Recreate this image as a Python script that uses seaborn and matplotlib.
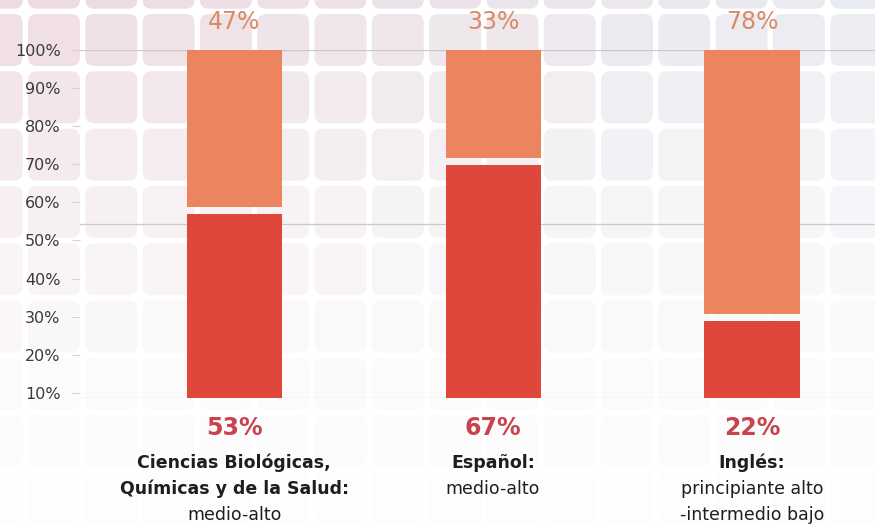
import numpy as np
import pandas as pd
import matplotlib
matplotlib.use("Agg")
import matplotlib.pyplot as plt
from matplotlib.patches import FancyBboxPatch
import seaborn as sns

# datos
materias = ["Ciencias", "Español", "Inglés"]
logrado = [53, 67, 22]        # parte inferior (rojo)
no_logrado = [47, 33, 78]     # parte superior (naranja)
titulos = [["Ciencias Biológicas,", "Químicas y de la Salud:"], ["Español:"], ["Inglés:"]]
niveles = [["medio-alto"], ["medio-alto"], ["principiante alto", "-intermedio bajo"]]
ticks_txt = ["10%", "20%", "30%", "40%", "50%", "60%", "70%", "80%", "90%", "100%"]

ROJO = "#e0473b"
NARANJA = "#ec845f"
sep = 2.0

sns.set_style("white")
plt.rcParams["font.family"] = ["DejaVu Sans"]

fig = plt.figure(figsize=(8.75, 5.27), dpi=100)
fig.patch.set_facecolor("white")

# fondo de cuadritos
bg = fig.add_axes([0, 0, 1, 1], zorder=0)
bg.set_xlim(0, 875)
bg.set_ylim(527, 0)
bg.axis("off")
izq = np.array([0.935, 0.855, 0.880])
der = np.array([0.915, 0.925, 0.950])
paso = 57.3
for i in range(-1, 16):
    for j in range(-1, 10):
        x0 = 28 + paso * i
        y0 = 14 + paso * j
        fx = np.clip((x0 + 26) / 875, 0, 1)
        fy = np.clip((y0 + 26) / 520, 0, 1)
        c = izq * (1 - fx) + der * fx
        w = (1 - fy) ** 1.8
        c = c * w + np.ones(3) * (1 - w) * 0.992
        bg.add_patch(FancyBboxPatch((x0 + 6, y0 + 6), 40, 40,
                                    boxstyle="round,pad=6,rounding_size=9",
                                    fc=c, ec="none"))

ax = fig.add_axes([80 / 875, (527 - 398) / 527, 795 / 875, 348 / 527], zorder=1)
ax.patch.set_alpha(0)

df = pd.DataFrame({"materia": materias, "logrado": logrado, "no_logrado": no_logrado})
df["base"] = df["logrado"] + sep
df["alto"] = df["no_logrado"] - sep

sns.barplot(data=df, x="materia", y="logrado", color=ROJO, saturation=1,
            width=0.367, ax=ax, zorder=3, linewidth=0)
sns.barplot(data=df, x="materia", y="alto", bottom=df["base"].to_list(), color=NARANJA,
            saturation=1, width=0.367, ax=ax, zorder=3, linewidth=0)

for y in [0, 50, 100]:
    ax.axhline(y, color="#c9c9c9", lw=0.9, zorder=1)

ax.set_xlim(-0.595, 2.475)
ax.set_ylim(0, 100)
ax.set_xlabel("")
ax.set_ylabel("")
ax.set_xticks([])
ax.set_yticks(np.linspace(1.5, 100, 10))
ax.set_yticklabels(ticks_txt, fontsize=11.5, color="#3a3a3a")
ax.tick_params(axis="y", length=6, color="#d4d4d4", width=0.8, pad=8, left=True)
sns.despine(ax=ax, left=True, bottom=True)

for i in range(len(materias)):
    ax.text(i, 108, f"{no_logrado[i]}%", ha="center", va="center", fontsize=17,
            color="#d98b68", clip_on=False)
    ax.text(i, -8.6, f"{logrado[i]}%", ha="center", va="center", fontsize=17,
            fontweight="bold", color="#c9434d", clip_on=False)
    lineas = [(t, "bold") for t in titulos[i]] + [(t, "normal") for t in niveles[i]]
    for k, (t, peso) in enumerate(lineas):
        ax.text(i, -18.7 - 7.5 * k, t, ha="center", va="center", fontsize=12.5,
                fontweight=peso, color="#1e1e1e", clip_on=False)

fig.savefig("out.png", dpi=100)
